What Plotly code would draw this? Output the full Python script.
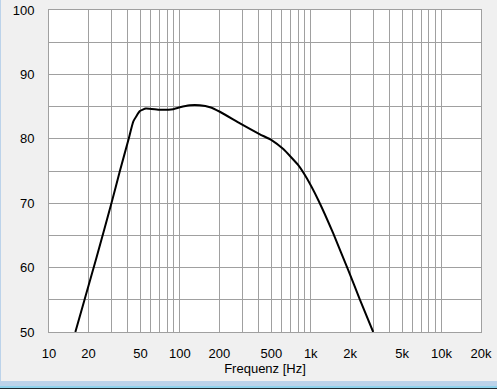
import plotly.graph_objects as go

# Data
freq_hz = [15.9, 18.8, 23.1, 30.1, 34.8, 40.4, 44.1, 49.5, 55.0, 70.5, 89, 100,
           119, 142, 170, 202, 288, 409, 502, 617, 803, 931, 1141, 1486, 1935, 2379, 3000]
spl_db = [50.0, 55.2, 61.6, 70.1, 75.0, 79.8, 82.7, 84.3, 84.7, 84.5, 84.6, 84.9,
          85.2, 85.2, 84.9, 84.2, 82.4, 80.7, 79.8, 78.4, 75.9, 73.9, 70.5, 65.3, 59.6, 55.0, 50.0]

x_grid = [10, 20, 30, 40, 50, 60, 70, 80, 90,
          100, 200, 300, 400, 500, 600, 700, 800, 900,
          1000, 2000, 3000, 4000, 5000, 6000, 7000, 8000, 9000, 10000, 20000]
x_labels = {10: "10", 20: "20", 50: "50", 100: "100", 200: "200", 500: "500",
            1000: "1k", 2000: "2k", 5000: "5k", 10000: "10k", 20000: "20k"}
y_grid = [50, 55, 60, 65, 70, 75, 80, 85, 90, 95, 100]
y_labels = {50: "50", 60: "60", 70: "70", 80: "80", 90: "90", 100: "100"}

fig = go.Figure()
fig.add_trace(go.Scatter(x=freq_hz, y=spl_db, mode="lines",
                         line=dict(color="black", width=2, shape="spline", smoothing=0.4),
                         hoverinfo="skip", showlegend=False))

W, H = 497, 389
L, R, T, B = 49, 16, 10, 57
pw, ph = W - L - R, H - T - B

def px_x(p):
    return (p - L) / pw

def px_y(p):
    return (H - B - p) / ph

font = dict(family="Liberation Sans, Arial, sans-serif", size=13, color="black")
grid_col = "#a0a0a0"

fig.update_layout(
    template="none",
    width=W, height=H,
    margin=dict(l=L, r=R, t=T, b=B, autoexpand=False),
    paper_bgcolor="#f0f0f0", plot_bgcolor="white",
    font=font,
    xaxis=dict(type="log", range=[1, 4.30103], automargin=False,
               tickmode="array", tickvals=x_grid,
               ticktext=[x_labels.get(v, "") for v in x_grid],
               showgrid=True, gridcolor=grid_col, gridwidth=1,
               showline=True, linecolor=grid_col, linewidth=1, mirror=True,
               ticks="", ticklabelstandoff=9, zeroline=False,
               title=dict(text="Frequenz [Hz]", font=font, standoff=3)),
    yaxis=dict(range=[50, 100], automargin=False,
               tickmode="array", tickvals=y_grid,
               ticktext=[y_labels.get(v, "") for v in y_grid],
               showgrid=True, gridcolor=grid_col, gridwidth=1,
               showline=True, linecolor=grid_col, linewidth=1, mirror=True,
               ticks="", ticklabelstandoff=11, zeroline=False),
    shapes=[
        dict(type="rect", xref="paper", yref="paper", x0=px_x(0), x1=px_x(W),
             y0=px_y(386), y1=px_y(381), fillcolor="#bcd3ea", line=dict(width=0), layer="below"),
        dict(type="rect", xref="paper", yref="paper", x0=px_x(0), x1=px_x(W),
             y0=px_y(388), y1=px_y(386), fillcolor="#8fd3ec", line=dict(width=0), layer="below"),
        dict(type="rect", xref="paper", yref="paper", x0=px_x(0), x1=px_x(W),
             y0=px_y(389), y1=px_y(388), fillcolor="#1e2a30", line=dict(width=0), layer="below"),
        dict(type="rect", xref="paper", yref="paper", x0=px_x(0), x1=px_x(1),
             y0=px_y(381), y1=px_y(0), fillcolor="#bcd3ea", line=dict(width=0), layer="below"),
    ],
)

fig.write_html("out.html", config={"displayModeBar": False},
               post_script="document.body.style.margin='0';document.body.style.overflow='hidden';")
